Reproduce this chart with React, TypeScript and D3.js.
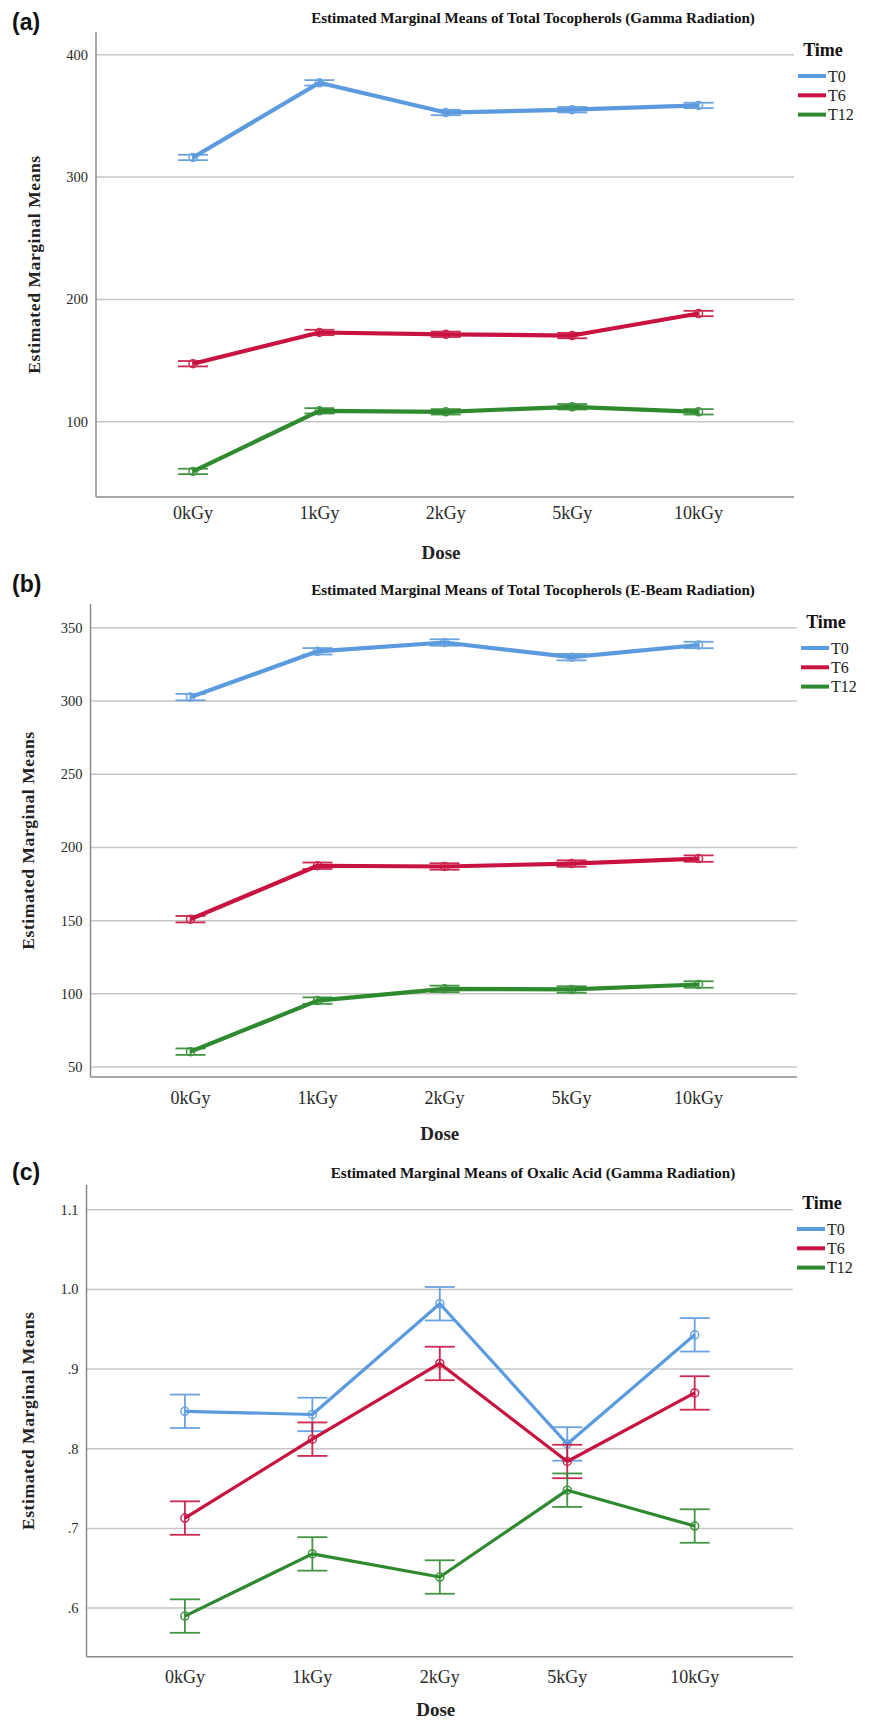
import React from "react";
import * as d3 from "d3";

// ---------- DATA ----------
const categories = ["0kGy", "1kGy", "2kGy", "5kGy", "10kGy"];
const seriesNames = ["T0", "T6", "T12"];

// (a) Total Tocopherols, Gamma
const gammaTocoT0 = [316, 377, 352.7, 355, 358.5];
const gammaTocoT6 = [147.5, 173, 171.5, 170.5, 188.5];
const gammaTocoT12 = [59.5, 109, 108.2, 112.3, 108.2];
const gammaTocoErr = [2.2, 2.2, 2.2];
const gammaTocoTicks = [100, 200, 300, 400];

// (b) Total Tocopherols, E-Beam
const ebeamTocoT0 = [302.7, 334, 340, 330, 338.3];
const ebeamTocoT6 = [151, 187.5, 187, 189, 192.4];
const ebeamTocoT12 = [60.5, 95.4, 103.4, 103, 106.4];
const ebeamTocoErr = [2.2, 2.2, 2.2];
const ebeamTocoTicks = [50, 100, 150, 200, 250, 300, 350];

// (c) Oxalic acid, Gamma
const oxalicT0 = [0.847, 0.843, 0.982, 0.806, 0.943];
const oxalicT6 = [0.713, 0.812, 0.907, 0.784, 0.87];
const oxalicT12 = [0.59, 0.668, 0.639, 0.748, 0.703];
const oxalicErr = [0.021, 0.021, 0.021];
const oxalicTicks = [0.6, 0.7, 0.8, 0.9, 1.0, 1.1];
const oxalicTickLabels = [".6", ".7", ".8", ".9", "1.0", "1.1"];

// ---------- STYLE ----------
const colors = ["#5b9ade", "#c8123f", "#2f8a2f"];
const SERIF = '"Liberation Serif", "DejaVu Serif", serif';
const SANS = '"Liberation Sans", Arial, sans-serif';

type PanelProps = {
  tag: string;
  title: string;
  series: number[][];
  errs: number[];
  ticks: number[];
  tickLabels?: string[];
  yDomain: [number, number];
  top: number;
  bottom: number;
  left: number;
  right: number;
  x0: number;
  x1: number;
  tagY: number;
  titleY: number;
  xLabY: number;
  doseY: number;
  lineW: number;
  yLabX: number;
};

const serifStyle = (size: number, bold = false): React.CSSProperties => ({
  fontFamily: SERIF,
  fontSize: size,
  fontWeight: bold ? 700 : 400,
});

function Panel(p: PanelProps) {
  const x = d3.scalePoint<string>().domain(categories).range([p.x0, p.x1]);
  const y = d3.scaleLinear().domain(p.yDomain).range([p.bottom, p.top]);
  const line = d3
    .line<number>()
    .x((_, i) => x(categories[i]) as number)
    .y((v) => y(v));
  const capHalf = 15;
  const midY = (p.top + p.bottom) / 2;
  return (
    <g>
      <text x={12} y={p.tagY} style={{ fontFamily: SANS, fontWeight: 700, fontSize: 23 }} fill="#111">
        {p.tag}
      </text>
      <text x={533} y={p.titleY} textAnchor="middle" style={serifStyle(15.1, true)} fill="#111">
        {p.title}
      </text>
      {p.ticks.map((t, i) => (
        <g key={"g" + i}>
          <line x1={p.left} x2={p.right} y1={y(t)} y2={y(t)} stroke="#c6c6c6" strokeWidth={1.5} />
          <text x={p.left - 8} y={y(t) + 5} textAnchor="end" style={serifStyle(14.5)} fill="#2a2a2a">
            {p.tickLabels ? p.tickLabels[i] : String(t)}
          </text>
        </g>
      ))}
      <line x1={p.left} x2={p.left} y1={p.top} y2={p.bottom} stroke="#8a8a8a" strokeWidth={1.5} />
      <line x1={p.left} x2={p.right} y1={p.bottom} y2={p.bottom} stroke="#8a8a8a" strokeWidth={1.5} />
      {categories.map((c) => (
        <text key={c} x={x(c)} y={p.xLabY} textAnchor="middle" style={serifStyle(18)} fill="#2a2a2a">
          {c}
        </text>
      ))}
      <text x={(p.left + p.right) / 2 - 4} y={p.doseY} textAnchor="middle" style={serifStyle(19, true)} fill="#222">
        Dose
      </text>
      <text
        transform={`translate(${p.yLabX},${midY}) rotate(-90)`}
        textAnchor="middle"
        style={{ ...serifStyle(17.5, true), letterSpacing: 0.6 }}
        fill="#222"
      >
        Estimated Marginal Means
      </text>
      {p.series.map((vals, si) => (
        <g key={"s" + si}>
          <path d={line(vals) || ""} fill="none" stroke={colors[si]} strokeWidth={p.lineW} strokeLinejoin="round" />
          {vals.map((v, i) => {
            const cx = x(categories[i]) as number;
            const e = p.errs[si];
            return (
              <g key={i} stroke={colors[si]} strokeWidth={1.8} opacity={0.9}>
                <line x1={cx} x2={cx} y1={y(v + e)} y2={y(v - e)} />
                <line x1={cx - capHalf} x2={cx + capHalf} y1={y(v + e)} y2={y(v + e)} />
                <line x1={cx - capHalf} x2={cx + capHalf} y1={y(v - e)} y2={y(v - e)} />
                <circle cx={cx} cy={y(v)} r={4} fill="none" strokeWidth={1.5} />
              </g>
            );
          })}
        </g>
      ))}
      <text x={p.right + 29} y={p.top + 24} textAnchor="middle" style={serifStyle(18, true)} fill="#111">
        Time
      </text>
      {seriesNames.map((s, i) => {
        const ly = p.top + 44 + i * 19.3;
        return (
          <g key={s}>
            <line x1={p.right + 4} x2={p.right + 32} y1={ly} y2={ly} stroke={colors[i]} strokeWidth={4} />
            <text x={p.right + 34} y={ly + 5.5} style={serifStyle(16)} fill="#222">
              {s}
            </text>
          </g>
        );
      })}
    </g>
  );
}

export default function App() {
  return (
    <svg
      width={874}
      height={1722}
      viewBox="0 0 874 1722"
      style={{ position: "absolute", left: 0, top: 0, display: "block", background: "#fff" }}
    >
      <rect x={0} y={0} width={874} height={1722} fill="#fff" />
      <Panel
        tag="(a)"
        title="Estimated Marginal Means of Total Tocopherols (Gamma Radiation)"
        series={[gammaTocoT0, gammaTocoT6, gammaTocoT12]}
        errs={gammaTocoErr}
        ticks={gammaTocoTicks}
        yDomain={[38.6, 418.5]}
        top={32}
        bottom={497}
        left={96}
        right={794}
        x0={193}
        x1={698.6}
        tagY={30}
        titleY={23}
        xLabY={519}
        doseY={559}
        lineW={4.2}
        yLabX={40}
      />
      <Panel
        tag="(b)"
        title="Estimated Marginal Means of Total Tocopherols (E-Beam Radiation)"
        series={[ebeamTocoT0, ebeamTocoT6, ebeamTocoT12]}
        errs={ebeamTocoErr}
        ticks={ebeamTocoTicks}
        yDomain={[43.2, 366.3]}
        top={604}
        bottom={1077}
        left={90.5}
        right={797}
        x0={190.5}
        x1={698.6}
        tagY={592}
        titleY={595}
        xLabY={1104}
        doseY={1139.5}
        lineW={4.2}
        yLabX={34}
      />
      <Panel
        tag="(c)"
        title="Estimated Marginal Means of Oxalic Acid (Gamma Radiation)"
        series={[oxalicT0, oxalicT6, oxalicT12]}
        errs={oxalicErr}
        ticks={oxalicTicks}
        tickLabels={oxalicTickLabels}
        yDomain={[0.539, 1.131]}
        top={1185}
        bottom={1656.7}
        left={86.5}
        right={793}
        x0={184.9}
        x1={694.7}
        tagY={1180}
        titleY={1177.5}
        xLabY={1683}
        doseY={1716}
        lineW={3.2}
        yLabX={34}
      />
    </svg>
  );
}
